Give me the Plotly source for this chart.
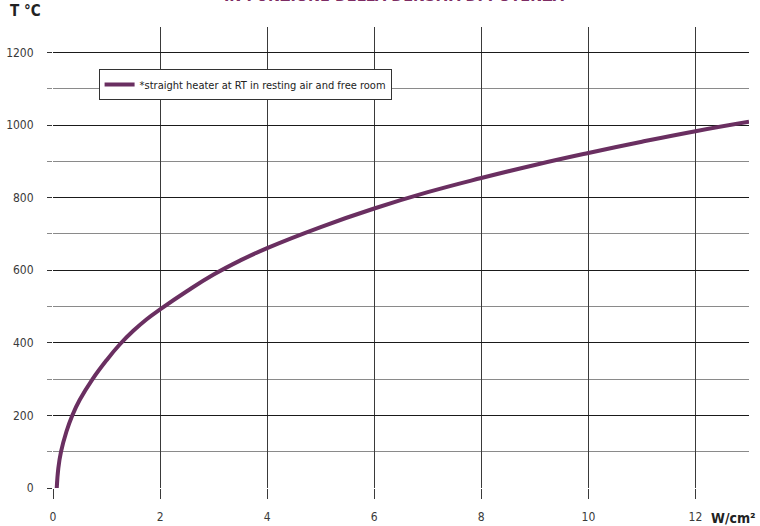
import plotly.graph_objects as go

# Data
power_density = [0.07, 0.1, 0.15, 0.25, 0.36, 0.5, 0.73, 1.0, 1.25, 1.5, 1.75, 2.0,
                 2.5, 3.0, 3.5, 4.0, 5.0, 6.0, 7.0, 8.0, 9.0, 10.0, 11.0, 12.0, 13.0]
temperature = [0, 55, 100, 155, 200, 243, 298, 352, 396, 433, 465, 492,
               542, 588, 627, 661, 719, 770, 815, 854, 890, 923, 954, 983, 1009]
series_name = "*straight heater at RT in resting air and free room"
x_ticks = [0, 2, 4, 6, 8, 10, 12]
y_ticks = [0, 200, 400, 600, 800, 1000, 1200]

FONT = "Liberation Sans Narrow, DejaVu Sans Condensed, Roboto Condensed, Arial Narrow, sans-serif"
CURVE = "#6a2f61"

fig = go.Figure()
fig.add_trace(go.Scatter(
    x=power_density, y=temperature, mode="lines", name=series_name,
    line=dict(color=CURVE, width=4, shape="spline", smoothing=1.3),
))

fig.update_layout(
    width=760, height=526,
    margin=dict(l=53, r=11, t=27, b=38),
    paper_bgcolor="white", plot_bgcolor="white",
    font=dict(family=FONT, size=12, color="#3a3a3a"),
    showlegend=True,
    legend=dict(
        x=0.0655, y=0.909, xanchor="left", yanchor="top",
        bgcolor="white", bordercolor="#333333", borderwidth=1,
        font=dict(family=FONT, size=11, color="#222222"),
        itemwidth=30,
    ),
    xaxis=dict(
        range=[0, 13], tickvals=x_ticks, ticktext=[str(v) for v in x_ticks],
        showgrid=True, gridcolor="#3a3a3a", gridwidth=1.3,
        ticks="outside", ticklen=10, tickcolor="#3a3a3a", tickwidth=1.3,
        ticklabelstandoff=8, automargin=False,
        zeroline=False, showline=False,
    ),
    yaxis=dict(
        range=[0, 1270], tickvals=y_ticks,
        showgrid=True, gridcolor="#1a1a1a", gridwidth=1.3,
        ticks="outside", ticklen=5, tickcolor="#333333", tickwidth=1.3,
        ticklabelstandoff=11, automargin=False,
        minor=dict(dtick=100, showgrid=True, gridcolor="#8a8a8a", gridwidth=1.3,
                   ticks="outside", ticklen=5, tickcolor="#8a8a8a", tickwidth=1.3),
        zeroline=False, showline=False,
    ),
    annotations=[
        dict(text="<b>IN FUNZIONE DELLA DENSITÀ DI POTENZA</b>", xref="paper", yref="paper",
             x=0.49, y=1.043, xanchor="center", yanchor="bottom", showarrow=False,
             font=dict(family=FONT, size=16, color="#7d2c63")),
        dict(text="<b>T °C</b>", xref="paper", yref="paper", x=-0.064, y=1.058,
             xanchor="left", yanchor="top", showarrow=False,
             font=dict(family=FONT, size=15, color="#222222")),
        dict(text="<b>W/cm²</b>", xref="paper", yref="paper", x=1.0125, y=-0.064,
             xanchor="right", yanchor="middle", showarrow=False,
             font=dict(family=FONT, size=14, color="#222222")),
    ],
)

fig.write_html(
    "out.html",
    config={"displayModeBar": False},
    post_script="document.body.style.margin='0';document.body.style.overflow='hidden';",
)
